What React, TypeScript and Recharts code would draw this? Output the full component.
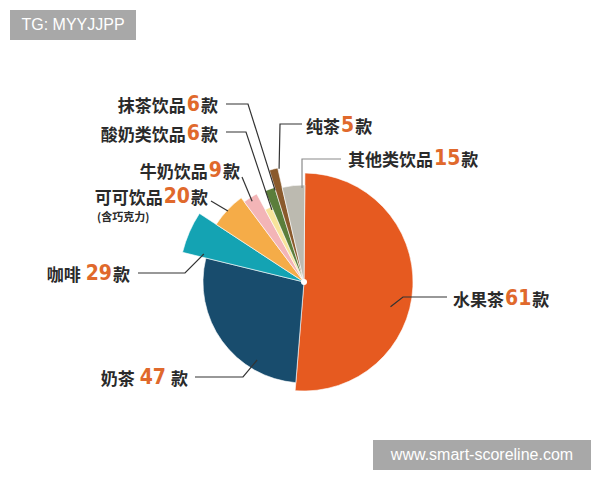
import { PieChart, Pie, Sector, Cell } from 'recharts';

// categories, clockwise from 12 o'clock
const categories = ['水果茶', '奶茶', '咖啡', '可可饮品', '牛奶饮品', '酸奶类饮品', '抹茶饮品', '纯茶', '其他类饮品'];
// counts printed in the labels
const counts = [61, 47, 29, 20, 9, 6, 6, 5, 15];
// slice sizes as drawn in the picture (degrees of arc)
const shares = [184, 99, 19.5, 20, 8.5, 5, 6, 4.2, 13.5];

const colors = ['#e65a20', '#184c6d', '#14a3b3', '#f5ac48', '#f3b5b7', '#f8e49b', '#5b7e3b', '#8a5a2c', '#bcbab0'];
const radii = [109, 101, 125, 105, 100, 82, 99, 117, 97];

// leader line: touches the slice at (angle clockwise from top, radius), then goes through the elbow points
type LabelLayout = {
  angle: number;
  r: number;
  points: [number, number][];
  x: number;
  y: number;
  anchor: 'start' | 'end';
  gap?: boolean;
  lineColor?: string;
};

const labelLayout: LabelLayout[] = [
  { angle: 106, r: 90, points: [[403, 297], [447, 297]], x: 453, y: 298, anchor: 'start' },
  { angle: 211, r: 91, points: [[243, 377], [195, 377]], x: 188, y: 377, anchor: 'end', gap: true },
  { angle: 285.6, r: 104, points: [[185, 273], [138, 273]], x: 130, y: 273, anchor: 'end' },
  { angle: 313, r: 104, points: [[211, 201]], x: 208, y: 196, anchor: 'end' },
  { angle: 327.3, r: 96, points: [[242, 177]], x: 240, y: 170, anchor: 'end' },
  { angle: 336, r: 79, points: [[246, 132], [226, 132]], x: 218, y: 133, anchor: 'end' },
  { angle: 342.5, r: 96, points: [[248, 104], [226, 104]], x: 218, y: 104, anchor: 'end' },
  { angle: 347.6, r: 116, points: [[280, 124], [302, 124]], x: 306, y: 125, anchor: 'start' },
  { angle: 358.8, r: 94, points: [[302, 159], [341, 159]], x: 348, y: 158, anchor: 'start', lineColor: '#8a8a8a' },
];

const data = categories.map((name, i) => ({ name, value: shares[i], count: counts[i] }));

const textFont = '"Noto Sans CJK SC", "Noto Sans", sans-serif';
const numFont = '"DejaVu Sans Condensed", "DejaVu Sans", sans-serif';

function renderSlice(props: any) {
  const idx = categories.indexOf(props.payload?.name ?? props.name);
  return (
    <Sector
      cx={props.cx}
      cy={props.cy}
      innerRadius={0}
      outerRadius={radii[idx] ?? props.outerRadius}
      startAngle={props.startAngle}
      endAngle={props.endAngle}
      fill={colors[idx]}
      stroke="#ffffff"
      strokeWidth={0.6}
    />
  );
}

function renderLabel(props: any) {
  const { cx, cy, index } = props;
  const lay = labelLayout[index];
  const rad = (lay.angle * Math.PI) / 180;
  const sx = cx + lay.r * Math.sin(rad);
  const sy = cy - lay.r * Math.cos(rad);
  const pts = [[sx, sy], ...lay.points].map((p) => p.join(',')).join(' ');
  const name = categories[index];
  return (
    <g key={`label-${index}`}>
      <polyline points={pts} fill="none" stroke={lay.lineColor ?? '#333333'} strokeWidth={1.2} />
      <text
        x={lay.x}
        y={lay.y}
        textAnchor={lay.anchor}
        dominantBaseline="central"
        fontFamily={textFont}
        fontWeight={700}
        fontSize={17}
        fill="#2a2a2a"
      >
        <tspan>{name}</tspan>
        <tspan
          dx={lay.gap || index === 2 ? 5 : 1}
          fontFamily={numFont}
          fontWeight={700}
          fontSize={21}
          style={{ fontStretch: 'condensed' }}
          fill="#e0692c"
        >
          {counts[index]}
        </tspan>
        <tspan dx={lay.gap ? 5 : 1}>款</tspan>
      </text>
      {index === 3 && (
        <text x={97} y={216} dominantBaseline="central" fontFamily={textFont} fontWeight={700} fontSize={11} fill="#2a2a2a">
          (含巧克力)
        </text>
      )}
      {index === 0 && <circle cx={cx} cy={cy} r={3} fill="#ffffff" />}
    </g>
  );
}

const badge = {
  position: 'absolute' as const,
  background: '#a8a8a8',
  color: '#ffffff',
  fontFamily: '"Liberation Sans", Arial, sans-serif',
  fontSize: 16,
  lineHeight: '30px',
  height: 30,
  textAlign: 'center' as const,
};

export default function App() {
  return (
    <div style={{ position: 'absolute', left: 0, top: 0, width: 600, height: 480, background: '#ffffff' }}>
      <PieChart width={600} height={480} margin={{ top: 0, right: 0, bottom: 0, left: 0 }}>
        <Pie
          data={data}
          dataKey="value"
          nameKey="name"
          cx={304}
          cy={282}
          innerRadius={0}
          outerRadius={125}
          startAngle={89.5}
          endAngle={-270.5}
          isAnimationActive={false}
          labelLine={false}
          label={renderLabel}
          shape={renderSlice}
          activeShape={renderSlice}
          inactiveShape={renderSlice}
        >
          {data.map((d, i) => (
            <Cell key={d.name} fill={colors[i]} />
          ))}
        </Pie>
      </PieChart>
      <div style={{ ...badge, left: 10, top: 10, width: 126 }}>TG: MYYJJPP</div>
      <div style={{ ...badge, left: 373, top: 440, width: 218 }}>www.smart-scoreline.com</div>
    </div>
  );
}
